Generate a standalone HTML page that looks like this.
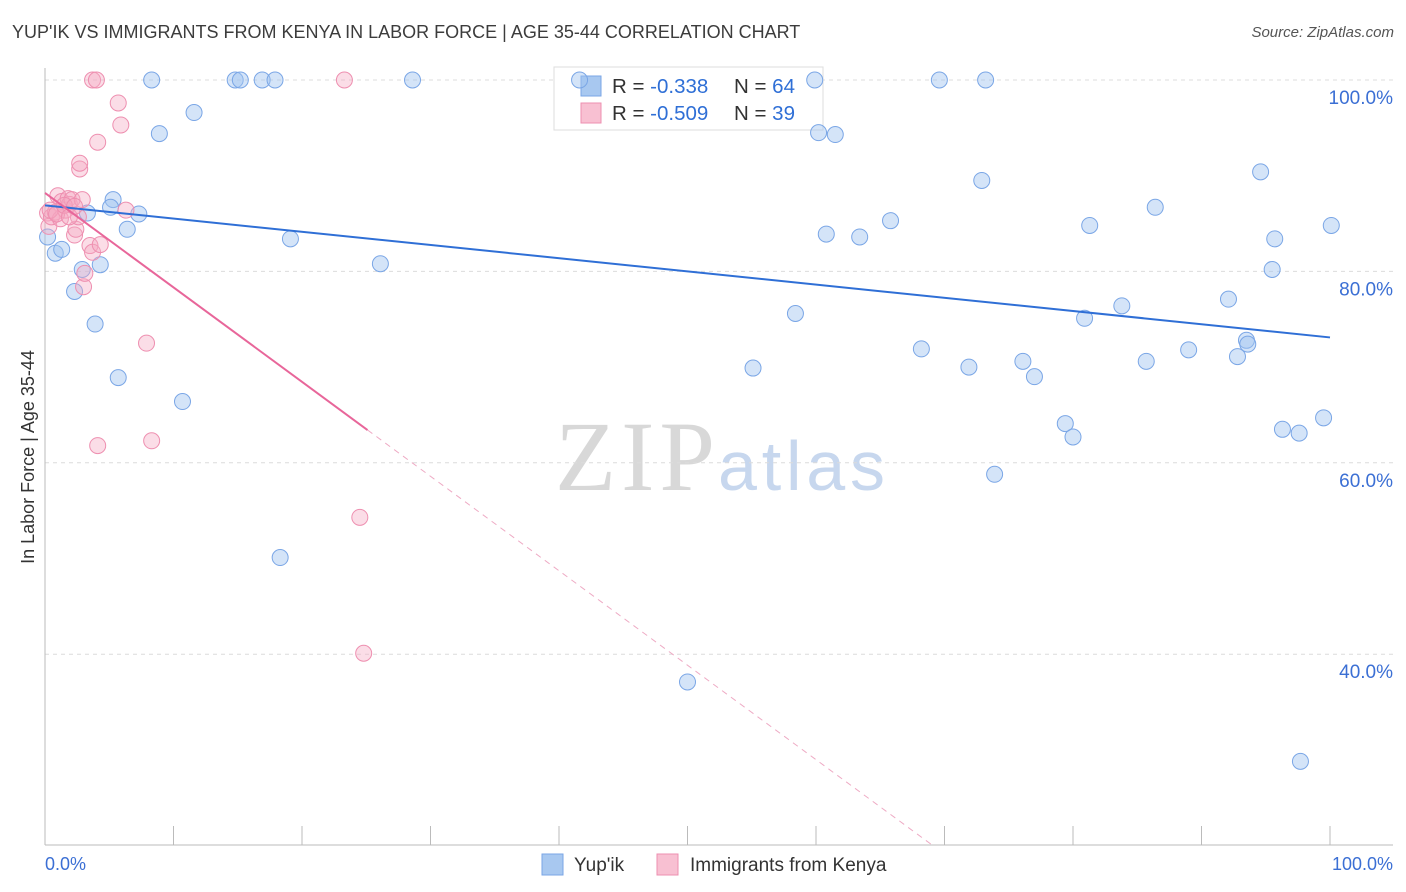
<!DOCTYPE html>
<html><head><meta charset="utf-8">
<style>
body{margin:0;background:#fff;font-family:"Liberation Sans",sans-serif;}
#wrap{position:relative;width:1406px;height:892px;overflow:hidden;}
.title{position:absolute;left:12px;top:22px;font-size:18px;color:#3c3c3c;}
.source{position:absolute;right:12px;top:24px;font-size:15px;color:#555;font-style:italic;}
</style></head><body>
<div id="wrap">
<div class="title">YUP'IK VS IMMIGRANTS FROM KENYA IN LABOR FORCE | AGE 35-44 CORRELATION CHART</div>
<div class="source">Source: ZipAtlas.com</div>
<svg id="svg" width="1406" height="892" style="position:absolute;left:0;top:0"></svg>
</div>
<script>
const blueX=[0.2,0.8,1.3,2.3,2.9,3.3,3.9,4.3,5.3,5.1,5.7,6.4,7.3,8.3,8.9,10.7,11.6,14.8,15.2,16.9,17.9,18.3,19.1,26.1,28.6,41.6,50.0,55.1,58.4,59.9,60.2,60.8,61.5,63.4,65.8,68.2,69.6,71.9,72.9,73.2,73.9,76.1,77.0,79.4,80.0,80.9,81.3,83.8,85.7,86.4,89.0,92.1,92.8,93.5,93.6,94.6,95.5,95.7,96.3,97.6,97.7,99.5,100.1];
const blueY=[83.6,81.9,82.3,77.9,80.2,86.1,74.5,80.7,87.5,86.7,68.9,84.4,86.0,100,94.4,66.4,96.6,100,100,100,100,50.1,83.4,80.8,100,100,37.1,69.9,75.6,100,94.5,83.9,94.3,83.6,85.3,71.9,100,70.0,89.5,100,58.8,70.6,69.0,64.1,62.7,75.1,84.8,76.4,70.6,86.7,71.8,77.1,71.1,72.8,72.4,90.4,80.2,83.4,63.5,63.1,28.8,64.7,84.8];
const pinkX=[0.2,0.3,0.5,0.8,1.0,1.2,1.3,1.6,1.8,1.9,2.1,2.3,2.4,2.6,2.7,2.7,2.9,3.0,3.1,3.5,3.7,3.7,4.0,4.1,4.1,4.3,5.7,5.9,6.3,7.9,8.3,23.3,24.5,24.8,0.4,0.9,1.5,1.9,2.3];
const pinkY=[86.1,84.7,85.7,86.2,87.9,85.5,87.3,86.4,87.6,87.0,87.5,83.8,84.4,85.7,90.7,91.3,87.5,78.4,79.8,82.7,82.0,100,100,61.8,93.5,82.8,97.6,95.3,86.4,72.5,62.3,100,54.3,40.1,86.4,86.0,86.9,85.7,86.8];
const tickY=[100,80,60,40];
const tickLabY=["100.0%","80.0%","60.0%","40.0%"];
const blueTrend=[86.9,73.1];
const pinkTrend=[88.2,-0.987];
const NS="http://www.w3.org/2000/svg";
const svg=document.getElementById('svg');
const X=v=>45+v*12.85, Y=v=>80+(100-v)*9.57;
function el(t,a,p){const e=document.createElementNS(NS,t);for(const k in a)e.setAttribute(k,a[k]);(p||svg).appendChild(e);return e;}
// watermark
let w=el('text',{x:555,y:490,'font-size':100,'font-family':'Liberation Serif',fill:'#d8d8d8',textLength:160});w.textContent='ZIP';


let w2=el('text',{x:718,y:490,'font-size':70,'font-family':'Liberation Sans',fill:'#c7d7ee',textLength:167});w2.textContent='atlas';


// grid
tickY.forEach((v,i)=>{
 let g=el('line',{x1:45,x2:1393,y1:Y(v),y2:Y(v),stroke:'#dcdcdc','stroke-dasharray':'4,4'});
 
 
 let t=el('text',{x:1393,y:Y(v)+24,'text-anchor':'end','font-size':19,fill:'#3b6fd4'});t.textContent=tickLabY[i];
 
 
});
// axes
let ax=el('line',{x1:45,x2:1393,y1:845,y2:845,stroke:'#bbb'});


let ay=el('line',{x1:45,x2:45,y1:68,y2:845,stroke:'#bbb'});


for(let i=0;i<=10;i++){let t=el('line',{x1:X(i*10),x2:X(i*10),y1:826,y2:845,stroke:'#bbb'});
 
 }
let xl=el('text',{x:45,y:870,'font-size':18,fill:'#3b6fd4'});xl.textContent='0.0%';


let xr=el('text',{x:1393,y:870,'font-size':18,fill:'#3b6fd4','text-anchor':'end'});xr.textContent='100.0%';


let yt=el('text',{x:34,y:457,'font-size':18,fill:'#333','text-anchor':'middle',transform:'rotate(-90 34 457)'});yt.textContent='In Labor Force | Age 35-44';


// legend box (drawn under points)
let lb=el('rect',{x:554,y:67,width:269,height:63,fill:'#fff',stroke:'#ddd'});


[[86,'#a8c8f0','#7aa6e6','-0.338','64'],[113,'#f8c0d2','#ee8fb0','-0.509','39']].forEach(r=>{
 let s=el('rect',{x:581,y:r[0]-10,width:20,height:20,fill:r[1],stroke:r[2]});
 
 
 let t=el('text',{x:612,y:r[0]+7,'font-size':20.5,fill:'#333'});
 t.innerHTML='R = <tspan fill="#2f6fd6"> '+r[3]+'</tspan><tspan x="734">N = </tspan><tspan fill="#2f6fd6">'+r[4]+'</tspan>';
 
 
});
// points
blueX.forEach((x,i)=>{let c=el('circle',{cx:X(x),cy:Y(blueY[i]),r:8,fill:'rgba(160,195,240,0.45)',stroke:'#7aa6e6','stroke-width':1});
 
 });
pinkX.forEach((x,i)=>{let c=el('circle',{cx:X(x),cy:Y(pinkY[i]),r:8,fill:'rgba(245,170,195,0.4)',stroke:'#ee8fb0','stroke-width':1});
 
 });
// trends
let bl=el('line',{x1:X(0),y1:Y(blueTrend[0]),x2:X(100),y2:Y(blueTrend[1]),stroke:'#2f6fd6','stroke-width':2});


const pe=25.1, pz=(20-pinkTrend[0])/pinkTrend[1];
let pl=el('line',{x1:X(0),y1:Y(pinkTrend[0]),x2:X(pe),y2:Y(pinkTrend[0]+pinkTrend[1]*pe),stroke:'#e8669a','stroke-width':2});


let pd=el('line',{x1:X(pe),y1:Y(pinkTrend[0]+pinkTrend[1]*pe),x2:X(pz),y2:Y(20),stroke:'#eeaac4','stroke-width':1,'stroke-dasharray':'6,5'});


// bottom legend
[[542,'#a8c8f0','#7aa6e6',"Yup'ik",574],[657,'#f8c0d2','#ee8fb0','Immigrants from Kenya',690]].forEach(r=>{
 let s=el('rect',{x:r[0],y:854,width:21,height:21,fill:r[1],stroke:r[2]});
 
 
 let t=el('text',{x:r[4],y:871,'font-size':19,fill:'#333'});t.textContent=r[3];
 
 
});
</script>
</body></html>
